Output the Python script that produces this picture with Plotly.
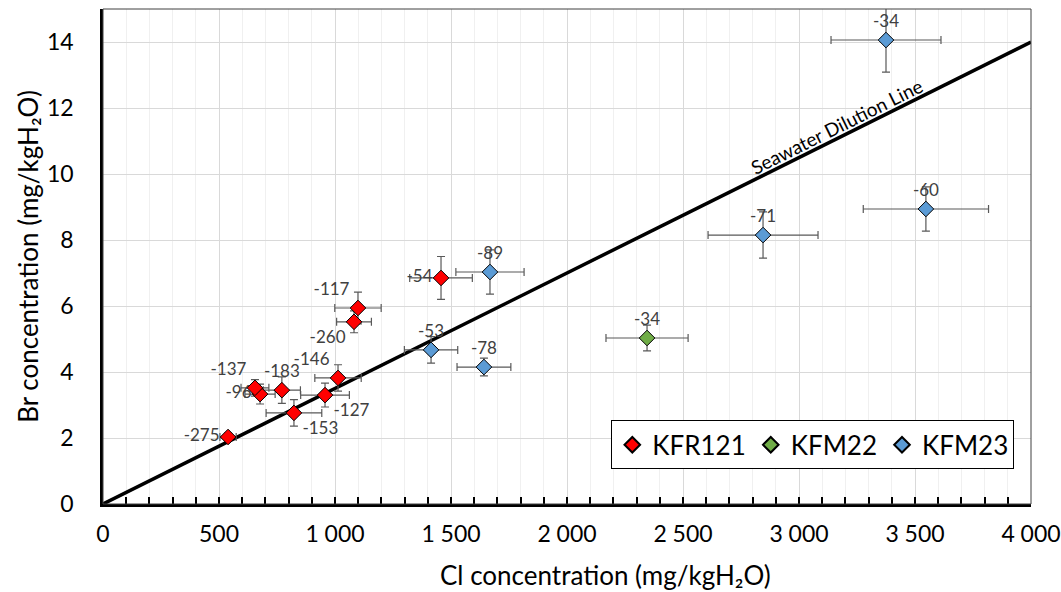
import plotly.graph_objects as go

# ---------------- data ----------------
kfr121_cl = [539, 677, 655, 771, 823, 957, 1013, 1099, 1082, 1457]
kfr121_br = [2.03, 3.33, 3.52, 3.45, 2.76, 3.30, 3.82, 5.94, 5.52, 6.85]
kfr121_cl_err = [35, 65, 60, 80, 120, 105, 100, 100, 75, 135]
kfr121_br_err = [0.12, 0.30, 0.25, 0.40, 0.40, 0.36, 0.40, 0.48, 0.33, 0.65]
kfr121_lbl = ["-275", "-96", "-137", "-183", "-153", "-127", "-146", "-117", "-260", "-54"]
kfr121_pos = ["middle left", "middle left", "top left", "top center", "bottom right",
              "bottom right", "top left", "top left", "bottom left", "middle left"]

kfm22_cl = [2345]
kfm22_br = [5.03]
kfm22_cl_err = [177]
kfm22_br_err = [0.39]
kfm22_lbl = ["-34"]

kfm23_cl = [3375, 2845, 3547, 1668, 1414, 1642]
kfm23_br = [14.06, 8.15, 8.94, 7.03, 4.67, 4.15]
kfm23_cl_err = [237, 237, 270, 147, 115, 116]
kfm23_br_err = [0.97, 0.70, 0.67, 0.67, 0.40, 0.27]
kfm23_lbl = ["-34", "-71", "-60", "-89", "-53", "-78"]

seawater_ratio = 0.0035  # Br/Cl
line_cl = [0, 4000]

FONT = "Lato, sans-serif"
fig = go.Figure()

# seawater dilution line
fig.add_trace(go.Scatter(
    x=line_cl, y=[c * seawater_ratio for c in line_cl], mode="lines",
    line=dict(color="black", width=3.5), showlegend=False, hoverinfo="skip"))


def add_series(name, xs, ys, xe, ye, labels, pos, color):
    fig.add_trace(go.Scatter(
        x=xs, y=ys, name=name, mode="markers+text",
        text=labels, textposition=pos,
        textfont=dict(family=FONT, size=17, color="#404040"),
        marker=dict(symbol="diamond", size=12, color=color,
                    line=dict(color="black", width=1)),
        error_x=dict(type="data", array=xe, color="#595959", thickness=1.2, width=4),
        error_y=dict(type="data", array=ye, color="#595959", thickness=1.2, width=4),
    ))


add_series("KFR121", kfr121_cl, kfr121_br, kfr121_cl_err, kfr121_br_err,
           kfr121_lbl, kfr121_pos, "#ff0000")
add_series("KFM22", kfm22_cl, kfm22_br, kfm22_cl_err, kfm22_br_err,
           kfm22_lbl, ["top center"], "#70ad47")
add_series("KFM23", kfm23_cl, kfm23_br, kfm23_cl_err, kfm23_br_err,
           kfm23_lbl, ["top center"] * len(kfm23_lbl), "#5b9bd5")

fig.add_annotation(
    x=3177, y=3177 * seawater_ratio, text="Seawater Dilution Line",
    showarrow=False, textangle=-26.5, yshift=11, xshift=-4,
    font=dict(family=FONT, size=19, color="black"))

# x-axis title (offset to the right as in the original)
fig.add_annotation(
    xref="paper", yref="paper", x=0.541, y=-0.143, xanchor="center", yanchor="middle",
    text="Cl concentration (mg/kgH₂O)", showarrow=False,
    font=dict(family=FONT, size=26, color="black"))

# plot frame (top/right)
fig.add_shape(type="rect", xref="paper", yref="paper", x0=0, x1=1, y0=0, y1=1,
              line=dict(color="#404040", width=1), layer="above")

fig.update_layout(
    width=1061, height=592,
    margin=dict(l=103, r=30, t=9, b=88, autoexpand=False),
    paper_bgcolor="white", plot_bgcolor="white",
    separators=", ",
    font=dict(family=FONT, size=23, color="#000000"),
    legend=dict(orientation="h", x=0.982, xanchor="right", y=0.07, yanchor="bottom",
                bgcolor="white", bordercolor="#000000", borderwidth=1,
                font=dict(family=FONT, size=26, color="black"),
                itemsizing="constant"),
    xaxis=dict(
        range=[0, 4000], tickvals=[0, 500, 1000, 1500, 2000, 2500, 3000, 3500, 4000],
        tickformat=",d", automargin=False,
        showgrid=True, gridcolor="#d9d9d9", gridwidth=1,
        showline=True, linecolor="black", linewidth=2.5,
        ticks="inside", ticklen=7, tickcolor="black", tickwidth=1.5,
        ticklabelstandoff=8,
        minor=dict(dtick=100, showgrid=True, gridcolor="#f0f0f0", gridwidth=1,
                   ticks="inside", ticklen=7, tickcolor="black", tickwidth=1.5),
        zeroline=False,
        tickfont=dict(family=FONT, size=23),
    ),
    yaxis=dict(
        range=[0, 15], tickvals=[0, 2, 4, 6, 8, 10, 12, 14], automargin=False,
        showgrid=True, gridcolor="#d9d9d9", gridwidth=1,
        showline=True, linecolor="black", linewidth=2.5,
        ticks="", zeroline=False, ticklabelstandoff=22,
        title=dict(text="Br concentration (mg/kgH₂O)", font=dict(family=FONT, size=26),
                   standoff=1),
        tickfont=dict(family=FONT, size=23),
    ),
)

fig.write_html("out.html")
